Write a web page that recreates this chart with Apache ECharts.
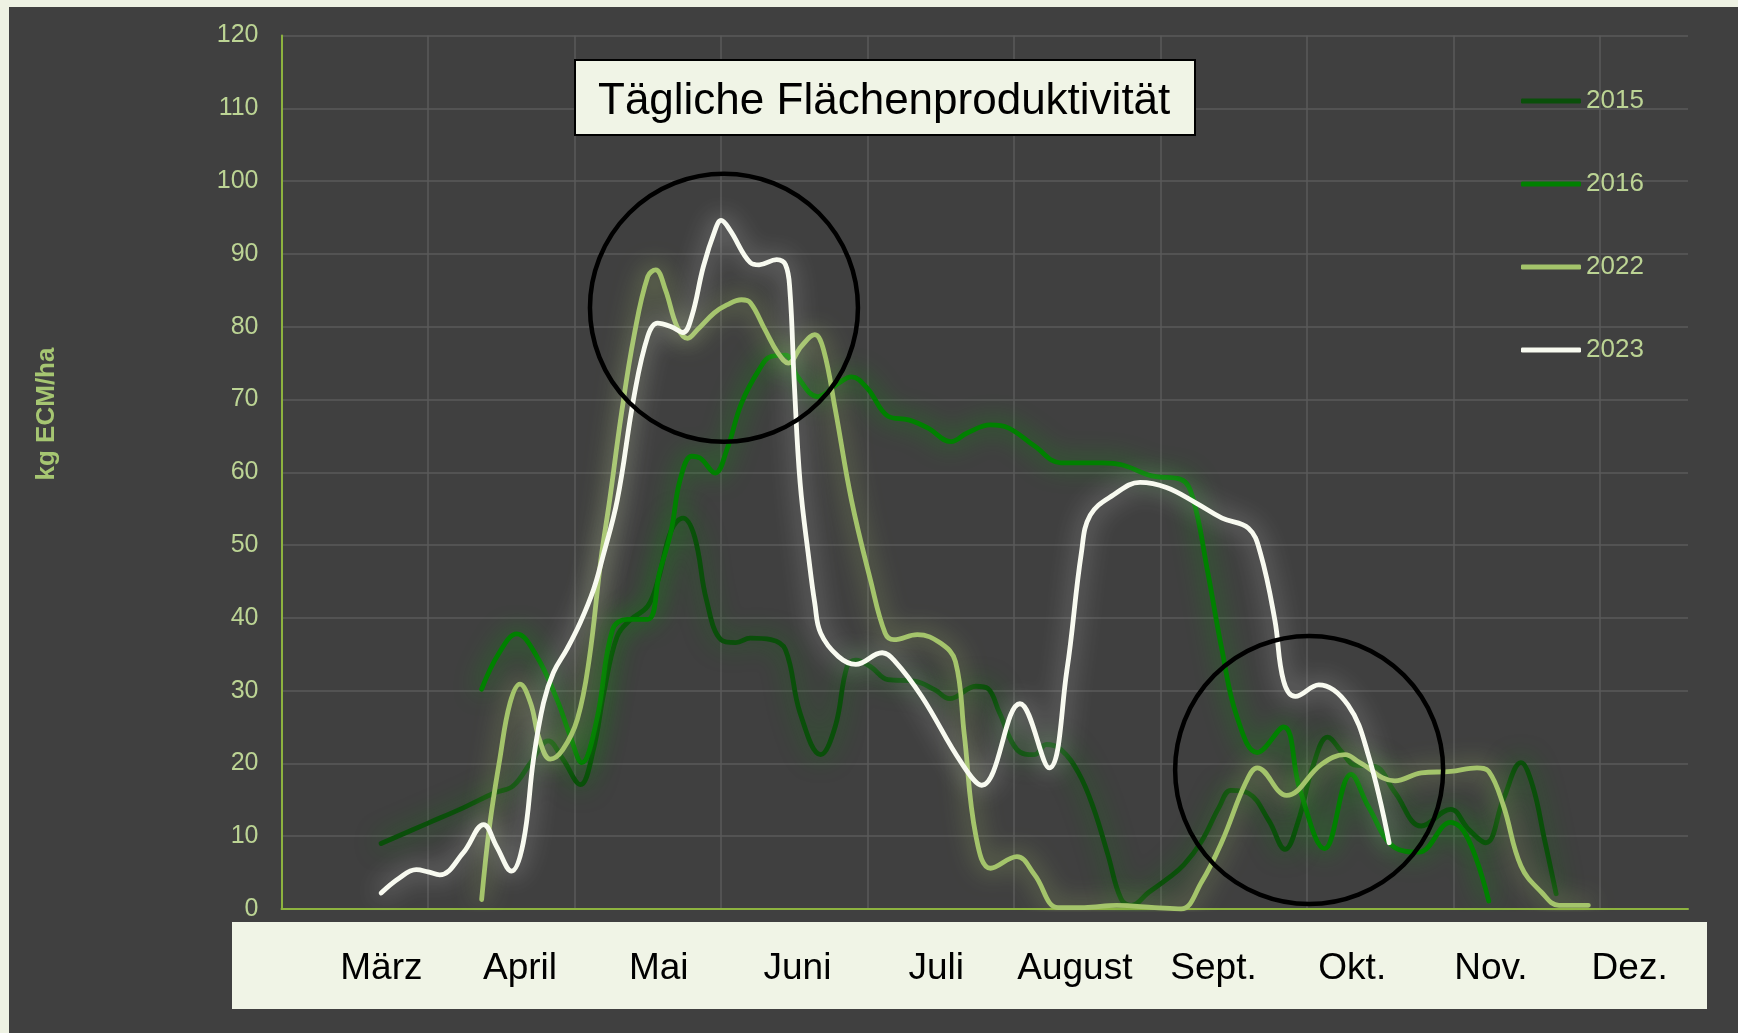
<!DOCTYPE html>
<html>
<head>
<meta charset="utf-8">
<script src="https://cdn.jsdelivr.net/npm/echarts@6/dist/echarts.min.js"></script>
<style>
html,body{margin:0;padding:0;background:#eef2e3;overflow:hidden}
#c{width:1738px;height:1033px}
</style>
</head>
<body>
<div id="c"></div>
<script>
// ---- data ----
const months = ['März','April','Mai','Juni','Juli','August','Sept.','Okt.','Nov.','Dez.'];
const years = ['2015','2016','2022','2023'];
const titleText = 'Tägliche Flächenproduktivität';
const yName = 'kg ECM/ha';

const w2015 = [3.4,5.0,6.2,7.3,7.9,8.5,9.1,9.6,10.2,10.65,11.0,11.45,11.9,12.5,12.85,13.3,13.7,14.1,14.5,15.0,15.5,16.0,16.7,17.2,17.7,18.4,18.9,19.3,19.6,20.1,20.7,21.6,22.3,22.8,23.7,24.1,24.5,25.1,25.7,26.1,26.6,27.2,27.7,28.2,28.65,29.0,29.6,30.25,30.8,31.4,32.0,32.4,33.0,33.7,34.25,34.7,35.2,35.7,36.2,36.6,37.3,38.0,38.9,39.9,40.5,41.1,41.7,42.3,42.7,43.1,43.5];
const kg2015 = [9,11.8,13.9,16,16.9,20.1,23.1,20.6,17.1,22,29.7,37.4,39.7,41.6,45.2,52,53.7,51.1,42.5,37,36.6,37.2,37,35.6,26.9,21.2,25.1,33.3,34.2,33.3,31.5,31.3,30.1,28.9,30.6,30.3,27,21.9,21.2,22.6,21.9,18.7,14,7.5,1.4,0.5,2.3,4.2,6.1,9.3,14,16.3,15.9,12.1,8.2,12.1,19.6,23.6,21.5,19.8,19.6,16,11.4,13.7,11,9.1,15.1,20.1,16.9,9.6,2.1];

const w2016 = [6.83,7.4,8.03,8.7,9.4,9.85,10.25,10.76,11.3,11.8,12.5,12.9,13.3,13.6,14.0,14.3,14.8,15.2,15.7,16.3,16.7,17.2,17.6,18.3,19.0,19.45,20.0,20.7,21.4,22.05,22.85,23.4,24.2,24.8,25.7,26.6,28.0,28.7,29.7,30.7,31.1,31.6,32.1,32.6,33.3,34.2,34.75,35.6,36.5,37.1,38.0,38.8,39.9,40.5,41.2];
const kg2016 = [30.2,35,37.8,34.8,28.8,23.8,20.1,26,38.4,39.8,39.8,46.2,52,58.9,62.2,61.9,59.9,63.1,69.5,74.1,75.9,76.1,73.2,70.4,72.2,73.1,71.5,67.7,67.2,66.1,64.2,65.4,66.5,66.1,63.6,61.3,61.3,61,59.5,59,56.5,46.5,35.5,26.5,21.5,25,16.5,8.3,18.5,14,8.4,7.8,11.9,9.6,1.1];

const w2022 = [6.83,7.1,7.45,7.8,8.14,8.5,8.8,9.17,9.6,10.1,10.5,10.9,11.2,11.6,12.03,12.5,12.77,13.1,13.5,13.86,14.2,14.77,15.2,15.7,16.0,16.5,16.94,17.3,17.74,18.2,18.5,18.9,19.45,20.1,20.6,20.9,21.7,22.5,23.0,23.3,23.7,24.2,25.1,25.7,26.5,27.4,28.5,29.8,30.7,31.4,32.1,32.9,33.3,34.3,35.5,36.3,36.8,38.0,38.9,39.9,40.8,41.2,41.7,42.3,43.0,43.6,44.6];
const kg2022 = [1.3,11.4,20.6,28.3,30.9,28.3,23.3,20.6,21.9,26.1,34.3,48,56.2,68,78.7,86.9,87.8,85.1,80,78.4,79.6,81.9,83,83.7,83.3,79.6,76.4,75,77.3,78.9,76.8,68.6,56.2,45.2,37.9,37,37.7,36.5,34,24,10,5.6,7.2,4.7,0.2,0.2,0.5,0.2,0,3.7,9.3,17.3,19.4,15.6,19.9,21.2,20.1,17.6,18.7,18.9,19.4,18.9,14.2,5.9,2.3,0.5,0.5];

const w2023 = [3.4,4.0,4.6,5.0,5.4,6.2,6.9,7.34,7.85,8.25,8.6,8.94,9.28,9.74,10.2,10.65,10.94,11.46,12.03,12.5,12.83,13.3,13.7,14.0,14.4,14.8,15.0,15.3,16.0,16.3,16.9,17.2,17.35,17.5,17.7,18.0,18.2,18.4,19.0,19.6,20.5,20.9,21.85,23.2,23.9,25.2,26.2,26.8,27.3,27.6,28.4,29.3,30.2,31.2,32.1,33.0,33.4,33.9,34.2,34.6,35.4,36.4,37.1,37.8];
const kg2023 = [2.2,4.2,5.4,5.1,4.7,7.7,11.6,8.6,5.2,9.1,20.6,28.3,32.5,35.7,39.4,43.9,48,56.2,70.4,78.7,80.5,80,79.2,81.4,88.3,93.3,94.6,93.3,88.8,88.5,89.2,88.5,85,72.2,58.5,48,42,37.9,34.7,33.6,35.2,34.2,29.2,20.1,17,28.2,19.4,32.7,49,54.1,56.9,58.6,57.9,55.8,53.7,52.3,49,39.7,31.3,29.2,30.8,28,21,9.1];

// highlighted regions (data coordinates: week, kg)
const highlights = [[15.1, 82.6], [35.07, 19.1]];

// ---- styles ----
const lineColors = ['#0a4f0a', '#008000', '#a4c46b', '#f8faf0'];
const glowColors = ['rgba(20,120,20,0.85)', 'rgba(0,175,0,0.75)', 'rgba(180,210,115,0.75)', 'rgba(255,255,255,0.6)'];
const seriesWeeks = [w2015, w2016, w2022, w2023];
const seriesKg = [kg2015, kg2016, kg2022, kg2023];
const FONT = '"Liberation Sans", Arial, sans-serif';
const tickColor = '#bcd494';
const gridColor = '#5a5a5a';
const axisGreen = '#8db33f';

const chart = echarts.init(document.getElementById('c'), null, {renderer: 'canvas'});

const xSplitColors = [];
for (let i = 0; i < 10; i++) xSplitColors.push(gridColor);
xSplitColors.push('rgba(0,0,0,0)');

const option = {
  backgroundColor: '#404040',
  animation: false,
  title: {
    text: titleText,
    left: 575, top: 60,
    backgroundColor: '#f0f4e6',
    borderColor: '#000', borderWidth: 2,
    padding: [18, 25, 10, 23],
    textStyle: {color: '#000', fontSize: 44, fontWeight: 'normal', fontFamily: FONT, lineHeight: 47}
  },
  legend: {
    orient: 'vertical', left: 1516, top: 82,
    itemWidth: 60, itemHeight: 5, itemGap: 55,
    icon: 'roundRect', selectedMode: false,
    data: years,
    textStyle: {color: tickColor, fontSize: 26, lineHeight: 28, fontFamily: FONT}
  },
  grid: [
    {left: 281.5, right: 50, top: 35.5, bottom: 124},
    {left: 312, right: 39, top: 930, height: 18}
  ],
  xAxis: [
    {
      type: 'value', gridIndex: 0, min: 0, max: 48, interval: 5,
      axisLine: {show: true, onZero: false, lineStyle: {color: axisGreen, width: 2}},
      axisTick: {show: false}, axisLabel: {show: false},
      splitLine: {show: true, lineStyle: {color: xSplitColors, width: 1.5}}
    },
    {
      type: 'category', gridIndex: 1, data: months, position: 'bottom', z: 10,
      axisLine: {show: false}, axisTick: {show: false},
      axisLabel: {interval: 0, color: '#000', fontSize: 37, fontFamily: FONT, margin: 2}
    }
  ],
  yAxis: [
    {
      type: 'value', gridIndex: 0, min: 0, max: 120, interval: 10,
      axisLine: {show: true, lineStyle: {color: axisGreen, width: 2}},
      axisTick: {show: false},
      axisLabel: {color: tickColor, fontSize: 25, fontFamily: FONT, margin: 23},
      splitLine: {show: true, lineStyle: {color: gridColor, width: 1.5}}
    },
    {type: 'value', gridIndex: 1, show: false}
  ],
  series: years.map((y, i) => ({
    name: y, type: 'line', xAxisIndex: 0, yAxisIndex: 0,
    data: seriesWeeks[i].map((w, j) => [w, seriesKg[i][j]]),
    smooth: 0.4, symbol: 'none', showSymbol: false,
    z: 3 + i,
    itemStyle: {color: lineColors[i]},
    lineStyle: {color: lineColors[i], width: 4.8, cap: 'round', join: 'round',
                shadowBlur: 24, shadowColor: glowColors[i]}
  })),
  graphic: [
    {type: 'rect', id: 'bandTop', z: 1, shape: {x: 0, y: 0, width: 1738, height: 7}, style: {fill: '#eef2e3'}},
    {type: 'rect', id: 'bandLeft', z: 1, shape: {x: 0, y: 0, width: 9, height: 1033}, style: {fill: '#eef2e3'}},
    {type: 'rect', id: 'monthBand', z: 1, shape: {x: 232, y: 922, width: 1475, height: 87}, style: {fill: '#f0f4e6'}},
    {type: 'text', id: 'yname', z: 5, x: 47, y: 414, rotation: Math.PI / 2,
     style: {text: yName, fill: '#a6c672', font: 'bold 26px ' + FONT, textAlign: 'center', textVerticalAlign: 'middle'}}
  ]
};

chart.setOption(option);

const circles = highlights.map((p, k) => {
  const px = chart.convertToPixel({gridIndex: 0}, p);
  return {type: 'circle', id: 'hl' + k, z: 60, shape: {cx: px[0], cy: px[1], r: 134},
          style: {fill: 'none', stroke: '#000', lineWidth: 4.5}};
});
chart.setOption({graphic: circles});
</script>
</body>
</html>
